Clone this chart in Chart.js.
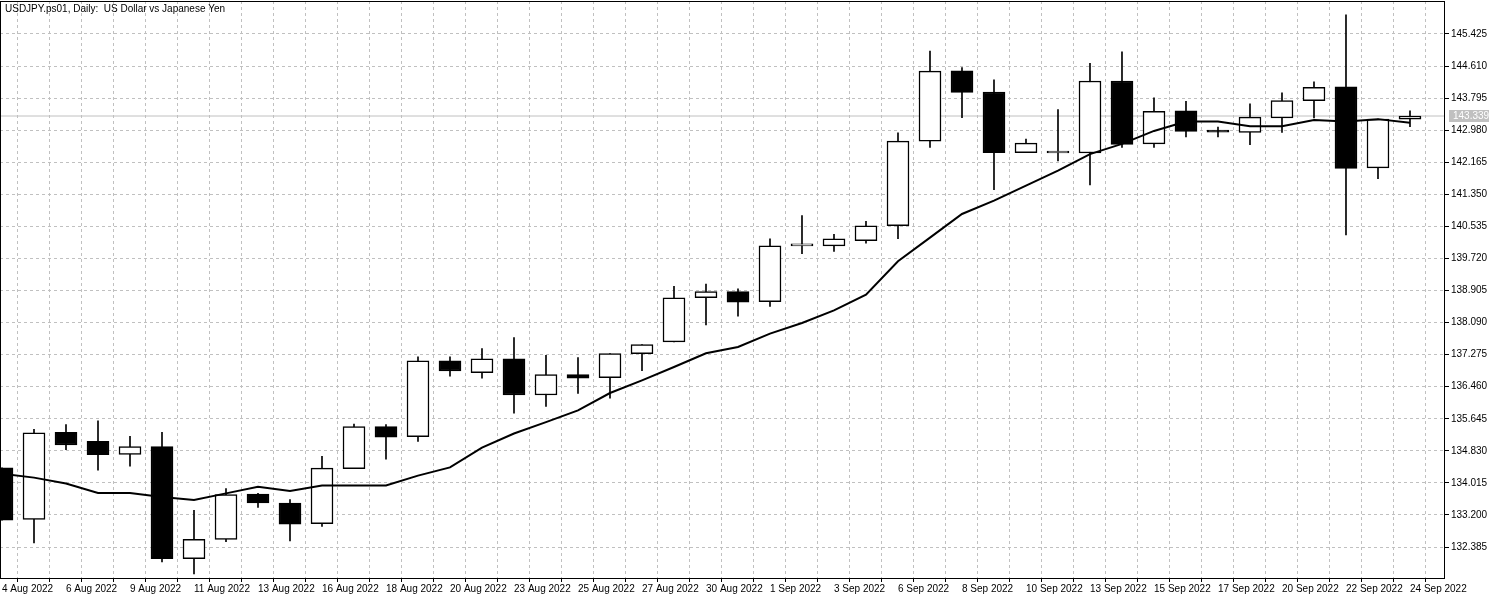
<!DOCTYPE html>
<html><head><meta charset="utf-8">
<script src="https://cdn.jsdelivr.net/npm/chart.js@4.4.0/dist/chart.umd.min.js"></script>
<style>html,body{margin:0;padding:0;background:#fff}canvas{display:block}</style>
</head><body>
<canvas id="c" width="1500" height="600"></canvas>
<script>
const dateLabels = ["4 Aug 2022","5 Aug","6 Aug 2022","8 Aug","9 Aug 2022","10 Aug","11 Aug 2022","12 Aug","13 Aug 2022","15 Aug","16 Aug 2022","17 Aug","18 Aug 2022","19 Aug","20 Aug 2022","22 Aug","23 Aug 2022","24 Aug","25 Aug 2022","26 Aug","27 Aug 2022","29 Aug","30 Aug 2022","31 Aug","1 Sep 2022","2 Sep","3 Sep 2022","5 Sep","6 Sep 2022","7 Sep","8 Sep 2022","9 Sep","10 Sep 2022","12 Sep","13 Sep 2022","14 Sep","15 Sep 2022","16 Sep","17 Sep 2022","19 Sep","20 Sep 2022","21 Sep","22 Sep 2022","23 Sep","24 Sep 2022"];
const opens  = [134.40,133.09,135.30,135.07,134.74,134.94,132.09,132.58,133.73,133.50,132.98,134.38,135.45,135.19,137.12,136.82,137.17,136.25,136.77,136.69,137.30,137.60,138.72,138.88,138.62,140.04,140.04,140.17,140.55,142.70,144.49,143.95,142.41,142.40,142.40,144.23,142.63,143.47,142.96,142.92,143.29,143.73,144.08,142.02,143.26];
const highs  = [134.40,135.38,135.50,135.59,135.20,135.30,133.32,133.87,133.75,133.59,134.69,135.51,135.50,137.22,137.22,137.43,137.71,137.26,137.20,137.30,137.53,139.01,139.07,138.95,140.22,140.81,140.33,140.66,142.91,144.99,144.57,144.26,142.75,143.50,144.68,144.97,143.80,143.71,143.06,143.65,143.93,144.21,145.91,143.26,143.47];
const lows   = [133.07,132.49,134.86,134.34,134.44,132.01,131.70,132.52,133.39,132.54,132.91,134.38,134.62,135.07,136.73,136.68,135.79,135.96,136.29,136.17,136.87,137.60,138.03,138.25,138.50,139.84,139.90,140.11,140.22,142.54,143.30,141.47,142.41,142.20,141.59,142.54,142.54,142.81,142.81,142.61,142.92,143.29,140.32,141.75,143.07];
const closes = [133.07,135.29,134.98,134.73,134.94,132.09,132.58,133.72,133.51,132.97,134.39,135.45,135.18,137.12,136.86,137.17,136.25,136.77,136.68,137.30,137.53,138.72,138.88,138.61,140.04,140.04,140.22,140.55,142.70,144.48,143.94,142.41,142.65,142.40,144.23,142.62,143.46,142.95,142.93,143.31,143.73,144.07,142.01,143.26,143.34];
const maValues = [134.25,134.15,134.00,133.76,133.76,133.66,133.58,133.75,133.92,133.81,133.95,133.95,133.95,134.20,134.41,134.91,135.27,135.56,135.86,136.30,136.62,136.96,137.31,137.47,137.81,138.08,138.40,138.80,139.65,140.25,140.85,141.19,141.57,141.95,142.37,142.63,142.96,143.20,143.20,143.08,143.08,143.24,143.20,143.26,143.17];
const yTicks = [132.385,133.200,134.015,134.830,135.645,136.460,137.275,138.090,138.905,139.720,140.535,141.350,142.165,142.980,143.795,144.610,145.425];
const currentPrice = 143.339;
const titleText = "USDJPY.ps01, Daily:  US Dollar vs Japanese Yen";

const XMIN=-0.0625, XMAX=45.094;
const idx = opens.map((_,i)=>i);
const bodies = idx.map(i=>({x:i,y:[opens[i],closes[i]]}));
const wicks = idx.map(i=>({x:i,y:[lows[i],highs[i]]}));
const bodyFill = idx.map(i=>closes[i]<opens[i]?'#000':'#fff');
const FONT='"Liberation Sans", Arial, sans-serif';

const overlay = {
  id:'overlay',
  afterDraw(chart){
    const ctx=chart.ctx, ys=chart.scales.y, a=chart.chartArea;
    ctx.save();
    ctx.strokeStyle='#000';ctx.lineWidth=1;
    ctx.strokeRect(a.left+0.5,a.top+0.5,a.right-a.left-1,a.bottom-a.top);
    ctx.font='10px '+FONT;ctx.fillStyle='#000';ctx.textBaseline='middle';ctx.textAlign='left';
    ctx.fillText(titleText,5,9);
    const py=Math.round(ys.getPixelForValue(currentPrice));
    ctx.fillStyle='#c0c0c0';ctx.fillRect(a.right+4,py-6,40,12);
    ctx.fillStyle='#fff';ctx.fillText(currentPrice.toFixed(3),a.right+8,py);
    ctx.restore();
  }
};

new Chart(document.getElementById('c'),{
  type:'bar',
  data:{datasets:[
    {type:'line',data:[{x:XMIN,y:currentPrice},{x:XMAX,y:currentPrice}],borderColor:'#c0c0c0',borderWidth:1,pointRadius:0,order:4},
    {data:wicks,backgroundColor:'#000',borderWidth:0,barThickness:1,order:3,grouped:false},
    {data:bodies,backgroundColor:bodyFill,borderColor:'#000',borderWidth:1.5,borderSkipped:false,barThickness:22,order:2,grouped:false,minBarLength:2},
    {type:'line',data:idx.map(i=>({x:i,y:maValues[i]})),borderColor:'#000',borderWidth:2,pointRadius:0,tension:0,order:1}
  ]},
  options:{
    responsive:false,animation:false,devicePixelRatio:1,
    layout:{autoPadding:false,padding:{top:1,left:0,right:0,bottom:0}},
    plugins:{legend:{display:false},tooltip:{enabled:false}},
    scales:{
      x:{type:'linear',min:XMIN,max:XMAX,offset:false,
        afterBuildTicks(s){s.ticks=idx.map(i=>({value:i}));},
        afterFit(s){s.height=22;s.paddingLeft=0;s.paddingRight=0;},
        grid:{color:'#c0c0c0',lineWidth:1,tickColor:'#000',tickLength:4,drawTicks:true},
        border:{display:false,dash:[3,3]},
        ticks:{autoSkip:false,maxRotation:0,align:'start',padding:1,color:'#000',font:{family:'Liberation Sans',size:10},
          callback(v){return (v%2===0)?dateLabels[v]:'';}}
      },
      y:{position:'right',min:131.599,max:146.262,
        afterBuildTicks(s){s.ticks=yTicks.map(v=>({value:v}));},
        afterFit(s){s.width=55;s.paddingTop=0;s.paddingBottom=0;},
        grid:{color:'#c0c0c0',lineWidth:1,tickColor:'#000',tickLength:4},
        border:{display:false,dash:[3,3]},
        ticks:{color:'#000',padding:2,font:{family:'Liberation Sans',size:10},callback(v){return Number(v).toFixed(3);}}
      }
    }
  },
  plugins:[overlay]
});
</script>
</body></html>
